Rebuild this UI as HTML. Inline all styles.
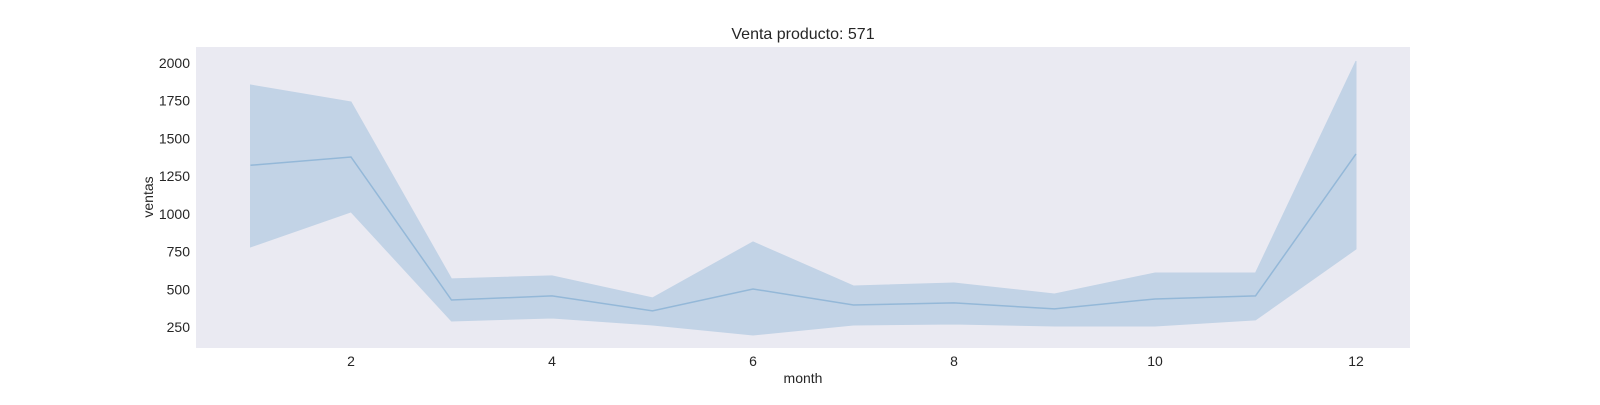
<!DOCTYPE html>
<html><head><meta charset="utf-8"><style>
body{margin:0;background:#fff;}
svg text{font-family:"Liberation Sans",sans-serif;fill:#262626;}
</style></head><body>
<svg id="chart" width="1600" height="400">
<rect x="196" y="47" width="1214" height="301" fill="#eaeaf2"/>
<text x="803" y="39" font-size="16" text-anchor="middle">Venta producto: 571</text>
<text x="803" y="383" font-size="14" text-anchor="middle">month</text>
<text x="153" y="197" font-size="14" text-anchor="middle" transform="rotate(-90 153 197)">ventas</text>
<g id="xt"></g><g id="yt"></g><g id="marks"></g>
</svg>
<script>
const months=[1,2,3,4,5,6,7,8,9,10,11,12];
const meanSales=[1322,1377,429,456,357,502,396,410,370,436,456,1397];
const upperCI=[1854,1742,569,589,443,814,522,542,469,608,608,2013];
const lowerCI=[781,1013,290,310,263,197,263,270,257,257,297,767];
const xTicks=[2,4,6,8,10,12];
const yTicks=[250,500,750,1000,1250,1500,1750,2000];
const X=m=>250.5+(m-1)*100.5;
const Y=v=>63+(2000-v)*0.15086;
const ns="http://www.w3.org/2000/svg";
function mk(t,a,p){const e=document.createElementNS(ns,t);for(const k in a)e.setAttribute(k,a[k]);p.appendChild(e);return e;}
const xt=document.getElementById('xt'),yt=document.getElementById('yt'),mg=document.getElementById('marks');
xTicks.forEach(t=>{const e=mk('text',{x:X(t),y:366,'font-size':14,'text-anchor':'middle'},xt);e.textContent=t;

});
yTicks.forEach(t=>{const e=mk('text',{x:190,y:Y(t)+5,'font-size':14,'text-anchor':'end'},yt);e.textContent=t;

});
let pts=months.map((m,i)=>X(m)+','+Y(upperCI[i]));
for(let i=months.length-1;i>=0;i--)pts.push(X(months[i])+','+Y(lowerCI[i]));
const band=mk('polygon',{points:pts.join(' '),fill:'#a8c4df',opacity:0.6,stroke:'#a8c4df','stroke-width':1},mg);


const line=mk('polyline',{points:months.map((m,i)=>X(m)+','+Y(meanSales[i])).join(' '),fill:'none',stroke:'#94b8d8','stroke-width':1.5},mg);


</script>
</body></html>
